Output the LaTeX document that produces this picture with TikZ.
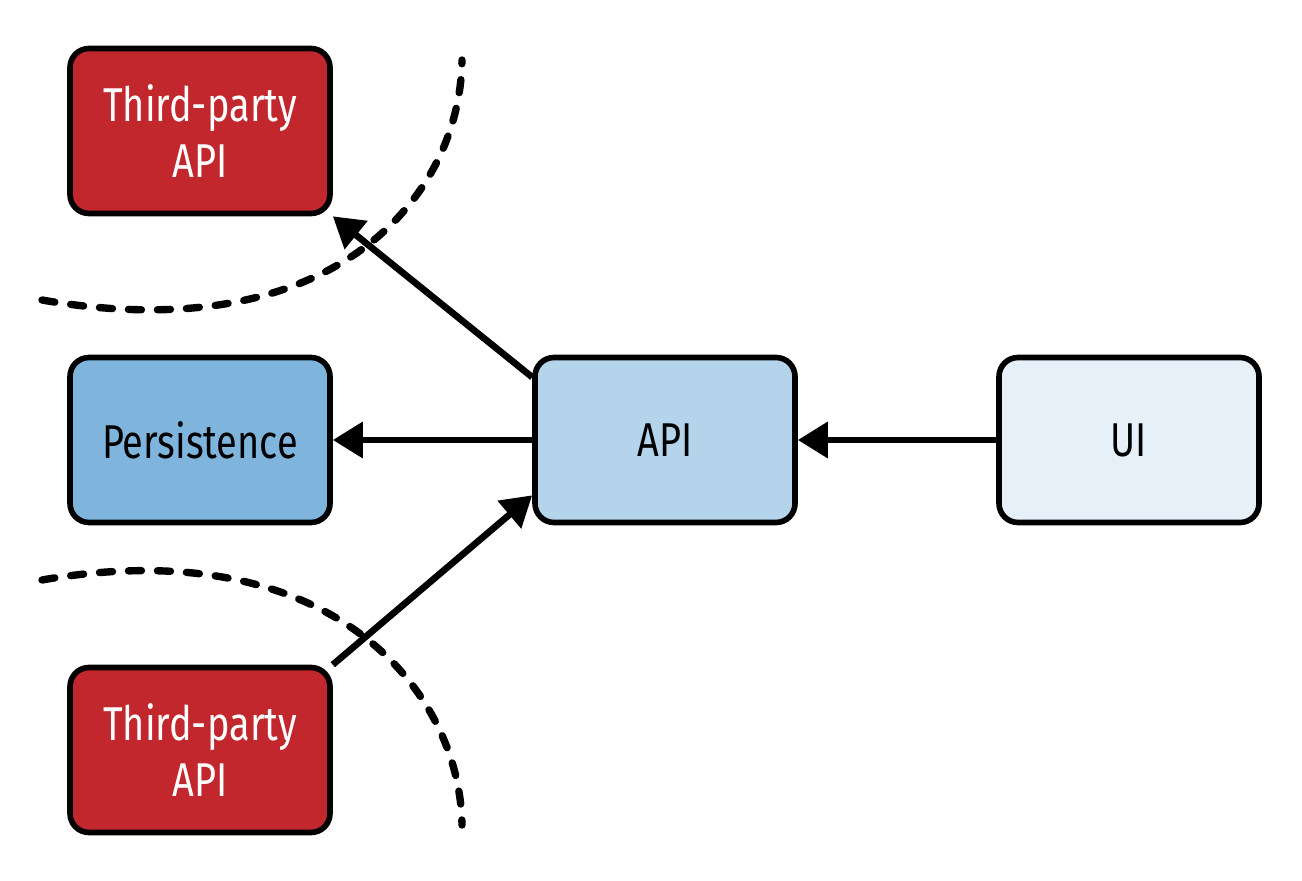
\documentclass[tikz,border=0pt]{standalone}
\usepackage{fontspec}
\setmainfont[FakeStretch=0.8]{Fira Sans}
\usetikzlibrary{arrows.meta}
\definecolor{extred}{HTML}{C1272D}
\definecolor{persblue}{HTML}{7FB5DC}
\definecolor{apiblue}{HTML}{B3D4EA}
\definecolor{uiblue}{HTML}{E6F0F8}
\begin{document}
\begin{tikzpicture}[
    box/.style={draw, line width=3.2pt, rounded corners=0.38cm, minimum width=5.2cm,
        minimum height=3.3cm, align=center, font=\fontsize{27}{32}\selectfont},
    link/.style={line width=3.8pt, -{Triangle[length=0.6cm, width=0.7cm]}},
    border/.style={line width=4.2pt, dash pattern=on 0.26cm off 0.32cm, line cap=round}
]
    \useasboundingbox (0, 0) rectangle (26.04, 17.6);

    \node[box, fill=extred, text=white] (thirdtop) at (4, 14.98) {Third-party\\API};
    \node[box, fill=persblue] (persistence) at (4, 8.8) {Persistence};
    \node[box, fill=extred, text=white] (thirdbottom) at (4, 2.6) {Third-party\\API};
    \node[box, fill=apiblue] (api) at (13.3, 8.8) {API};
    \node[box, fill=uiblue] (ui) at (22.58, 8.8) {UI};

    \draw[link] (ui) to (api);
    \draw[link] (api) to (persistence);
    \draw[link] (api.north west) ++(0, -0.45) to (thirdtop.south east);
    \draw[link] (thirdbottom.north east) to ([yshift=0.6cm]api.south west);

    \draw[border] (0.84, 11.6) .. controls (6.6, 10.6) and (9.2, 13.6) .. (9.24, 16.4);
    \draw[border] (0.84, 6.0) .. controls (6.6, 7.0) and (9.2, 3.8) .. (9.24, 1.1);
\end{tikzpicture}
\end{document}
